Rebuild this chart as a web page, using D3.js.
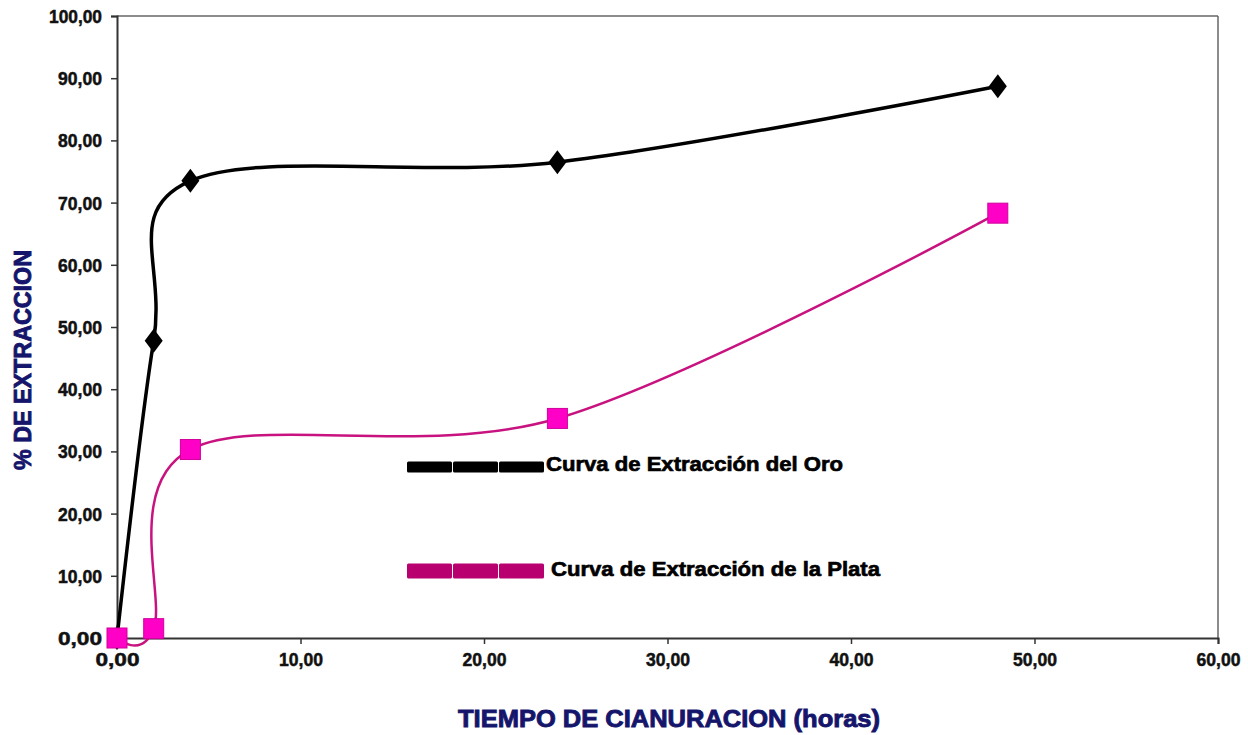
<!DOCTYPE html>
<html>
<head>
<meta charset="utf-8">
<script src="https://cdn.jsdelivr.net/npm/d3@7"></script>
<style>
  body { margin: 0; background: #fff; }
  svg text { font-family: "Liberation Sans", Arial, sans-serif; font-weight: bold; }
</style>
</head>
<body>
<svg id="chart" width="1248" height="735"></svg>
<script>
// values
const hours = [0, 2, 4, 24, 48];
const goldExtraction = [0, 47.8, 73.5, 76.5, 88.7];
const silverExtraction = [0, 1.5, 30.3, 35.3, 68.3];

const xTicks = [0, 10, 20, 30, 40, 50, 60];
const yTicks = [0, 10, 20, 30, 40, 50, 60, 70, 80, 90, 100];

const legendLabels = ["Curva de Extracción del Oro", "Curva de Extracción de la Plata"];
const xTitle = "TIEMPO DE CIANURACION (horas)";
const yTitle = "% DE EXTRACCION";

const fmt = (v) => d3.format(".2f")(v).replace(".", ",");

const svg = d3.select("#chart");
const plot = { left: 117, right: 1218, top: 16, bottom: 638 };

const x = d3.scaleLinear().domain([0, 60]).range([plot.left, plot.right]);
const y = d3.scaleLinear().domain([0, 100]).range([plot.bottom, plot.top]);

// frame: top and right in gray
svg.append("line")
  .attr("x1", plot.left).attr("x2", plot.right)
  .attr("y1", plot.top).attr("y2", plot.top)
  .attr("stroke", "#666").attr("stroke-width", 1.5);
svg.append("line")
  .attr("x1", plot.right).attr("x2", plot.right)
  .attr("y1", plot.top).attr("y2", plot.bottom)
  .attr("stroke", "#666").attr("stroke-width", 1.5);

const xAxis = svg.append("g")
  .attr("transform", `translate(0,${plot.bottom})`)
  .call(d3.axisBottom(x).tickValues(xTicks).tickFormat(fmt).tickSizeOuter(0).tickSize(6).tickPadding(9));
const yAxis = svg.append("g")
  .attr("transform", `translate(${plot.left},0)`)
  .call(d3.axisLeft(y).tickValues(yTicks).tickFormat(fmt).tickSizeOuter(0).tickSize(6).tickPadding(9));

[xAxis, yAxis].forEach((axis) => {
  axis.select(".domain").attr("stroke", "#333").attr("stroke-width", 2);
  axis.selectAll(".tick line").attr("stroke", "#333").attr("stroke-width", 1.5);
  axis.selectAll(".tick text")
    .attr("fill", "#111")
    .attr("stroke", "#111")
    .attr("stroke-width", 0.5)
    .attr("textLength", 52)
    .attr("lengthAdjust", "spacingAndGlyphs")
    .style("font-size", "18px");
});
xAxis.selectAll(".tick text").attr("textLength", 44);
yAxis.selectAll(".tick text")
  .attr("dy", "0.36em")
  .attr("textLength", (d) => (d === 100 ? 53 : 44));

// smoothed series lines
const line = d3.line()
  .x((d) => x(d[0]))
  .y((d) => y(d[1]))
  .curve(d3.curveCardinal.tension(0));

const silverPoints = hours.map((h, i) => [h, silverExtraction[i]]);
const goldPoints = hours.map((h, i) => [h, goldExtraction[i]]);

svg.append("path")
  .datum(goldPoints)
  .attr("d", line)
  .attr("fill", "none")
  .attr("stroke", "#000")
  .attr("stroke-width", 3.5);

svg.append("path")
  .datum(silverPoints)
  .attr("d", line)
  .attr("fill", "none")
  .attr("stroke", "#c8127f")
  .attr("stroke-width", 2.5);

// markers
svg.selectAll("path.gold")
  .data(goldPoints)
  .join("path")
  .attr("class", "gold")
  .attr("transform", (d) => `translate(${x(d[0])},${y(d[1])})`)
  .attr("d", "M0,-12L9,0L0,12L-9,0Z")
  .attr("fill", "#000");

svg.selectAll("rect.silver")
  .data(silverPoints)
  .join("rect")
  .attr("class", "silver")
  .attr("x", (d) => x(d[0]) - 10)
  .attr("y", (d) => y(d[1]) - 10)
  .attr("width", 20)
  .attr("height", 20)
  .attr("fill", "#ff00c6")
  .attr("stroke", "#d0009a")
  .attr("stroke-width", 1);

// legend inside the plot
const legendItems = [
  { label: legendLabels[0], color: "#000", y: 467, h: 11, textX: 546, baseline: 471, len: 297 },
  { label: legendLabels[1], color: "#b8006e", y: 571, h: 15, textX: 551, baseline: 576, len: 329 },
];

legendItems.forEach((item) => {
  const g = svg.append("g");
  [0, 1, 2].forEach((k) => {
    g.append("rect")
      .attr("x", 407 + k * 46)
      .attr("y", item.y - item.h / 2)
      .attr("width", 45)
      .attr("height", item.h)
      .attr("rx", 1.5)
      .attr("fill", item.color);
  });
  g.append("text")
    .attr("x", item.textX)
    .attr("y", item.baseline)
    .attr("textLength", item.len)
    .attr("lengthAdjust", "spacingAndGlyphs")
    .attr("fill", "#000")
    .attr("stroke", "#000")
    .attr("stroke-width", 0.7)
    .style("font-size", "21px")
    .text(item.label);
});

// axis titles
svg.append("text")
  .attr("x", 669)
  .attr("y", 727)
  .attr("text-anchor", "middle")
  .attr("textLength", 422)
  .attr("lengthAdjust", "spacingAndGlyphs")
  .attr("fill", "#15156b")
  .attr("stroke", "#15156b")
  .attr("stroke-width", 0.9)
  .style("font-size", "24px")
  .text(xTitle);

svg.append("text")
  .attr("transform", "translate(31,360) rotate(-90)")
  .attr("text-anchor", "middle")
  .attr("textLength", 220)
  .attr("lengthAdjust", "spacingAndGlyphs")
  .attr("fill", "#15156b")
  .attr("stroke", "#15156b")
  .attr("stroke-width", 0.9)
  .style("font-size", "24px")
  .text(yTitle);
</script>
</body>
</html>
